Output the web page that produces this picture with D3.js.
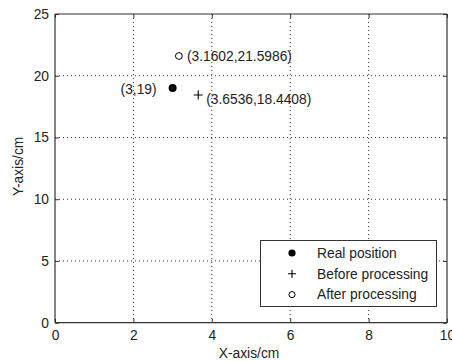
<!DOCTYPE html>
<html><head><meta charset="utf-8">
<script src="https://cdn.jsdelivr.net/npm/d3@7"></script>
<style>body{margin:0;background:#fff}svg{display:block}text{font-family:"Liberation Sans",Arial,sans-serif;fill:#222}</style>
</head><body>
<svg id="c" width="452" height="362"></svg>
<script>
const xTicks = [0,2,4,6,8,10];
const yTicks = [0,5,10,15,20,25];
const seriesNames = ["Real position","Before processing","After processing"];
const seriesX = [3, 3.6536, 3.1602];
const seriesY = [19, 18.4408, 21.5986];
const pointLabels = ["(3,19)","(3.6536,18.4408)","(3.1602,21.5986)"];

const FS = 13.8;
const svg = d3.select("#c");
const L=55, R=447, T=14, B=322.7;
const x = d3.scaleLinear().domain([0,10]).range([L,R]);
const y = d3.scaleLinear().domain([0,25]).range([B,T]);

// grid
const g = svg.append("g");
xTicks.slice(1,-1).forEach(t=>g.append("line").attr("x1",x(t)).attr("x2",x(t)).attr("y1",T).attr("y2",B)
  .attr("stroke","#333").attr("stroke-width",1).attr("stroke-dasharray","1,3"));
yTicks.slice(1,-1).forEach(t=>g.append("line").attr("x1",L).attr("x2",R).attr("y1",y(t)).attr("y2",y(t))
  .attr("stroke","#333").attr("stroke-width",1).attr("stroke-dasharray","1,3"));

// axes
const xa = svg.append("g").attr("transform",`translate(0,${B})`)
  .call(d3.axisBottom(x).tickValues(xTicks).tickSize(-4).tickPadding(8).tickFormat(d3.format("d")));
const xt = svg.append("g").attr("transform",`translate(0,${T})`)
  .call(d3.axisTop(x).tickValues(xTicks).tickSize(-4).tickFormat(""));
const ya = svg.append("g").attr("transform",`translate(${L},0)`)
  .call(d3.axisLeft(y).tickValues(yTicks).tickSize(-4).tickPadding(6).tickFormat(d3.format("d")));
const yr = svg.append("g").attr("transform",`translate(${R},0)`)
  .call(d3.axisRight(y).tickValues(yTicks).tickSize(-4).tickFormat(""));
[xa,xt,ya,yr].forEach(a=>{
  a.selectAll(".domain").attr("stroke","#333").attr("stroke-width",1.2);
  a.selectAll(".tick line").attr("stroke","#333");
  a.selectAll("text").attr("font-size",FS).attr("fill","#222").attr("font-family","Liberation Sans, Arial, sans-serif");
});
ya.selectAll(".domain").attr("d",`M0,${B}V${T}`);
yr.selectAll(".domain").attr("d",`M0,${B}V${T}`);
xa.selectAll(".domain").attr("d",`M${L},0H${R}`);
xt.selectAll(".domain").attr("d",`M${L},0H${R}`);

// axis titles
svg.append("text").attr("x",(L+R)/2 - 2).attr("y",358).attr("text-anchor","middle").attr("font-size",FS).text("X-axis/cm");
svg.append("text").attr("transform",`translate(23,${(T+B)/2 - 2}) rotate(-90)`).attr("text-anchor","middle").attr("font-size",FS).text("Y-axis/cm");

function marker(sel, i, cx, cy, s){
  if(i===0) sel.append("circle").attr("cx",cx).attr("cy",cy).attr("r",4*s).attr("fill","#000");
  else if(i===1) sel.append("path").attr("d",`M${cx-4.5*s},${cy}H${cx+4.5*s}M${cx},${cy-4.5*s}V${cy+4.5*s}`).attr("stroke","#000").attr("stroke-width",1.1);
  else sel.append("circle").attr("cx",cx).attr("cy",cy).attr("r",3.4*s).attr("fill","none").attr("stroke","#000").attr("stroke-width",1);
}
const pts = svg.append("g");
seriesX.forEach((v,i)=>marker(pts,i,x(v),y(seriesY[i]),1));

// point labels (pixel offsets relative to point)
const offs = [[-16,1,"end"],[8,4,"start"],[8,0,"start"]];
seriesX.forEach((v,i)=>{
  pts.append("text").attr("x",x(v)+offs[i][0]).attr("y",y(seriesY[i])+offs[i][1]).attr("dy","0.35em")
    .attr("text-anchor",offs[i][2]).attr("font-size",FS).text(pointLabels[i]);
});

// legend
const lg = svg.append("g");
lg.append("rect").attr("x",260.5).attr("y",240.5).attr("width",176).attr("height",66).attr("fill","#fff").attr("stroke","#333").attr("stroke-width",1);
seriesNames.forEach((n,i)=>{
  const cy = 253 + i*20.8;
  marker(lg,i,292,cy,0.9);
  lg.append("text").attr("x",317).attr("y",cy).attr("dy","0.35em").attr("font-size",FS).text(n);
});
</script>
</body></html>
